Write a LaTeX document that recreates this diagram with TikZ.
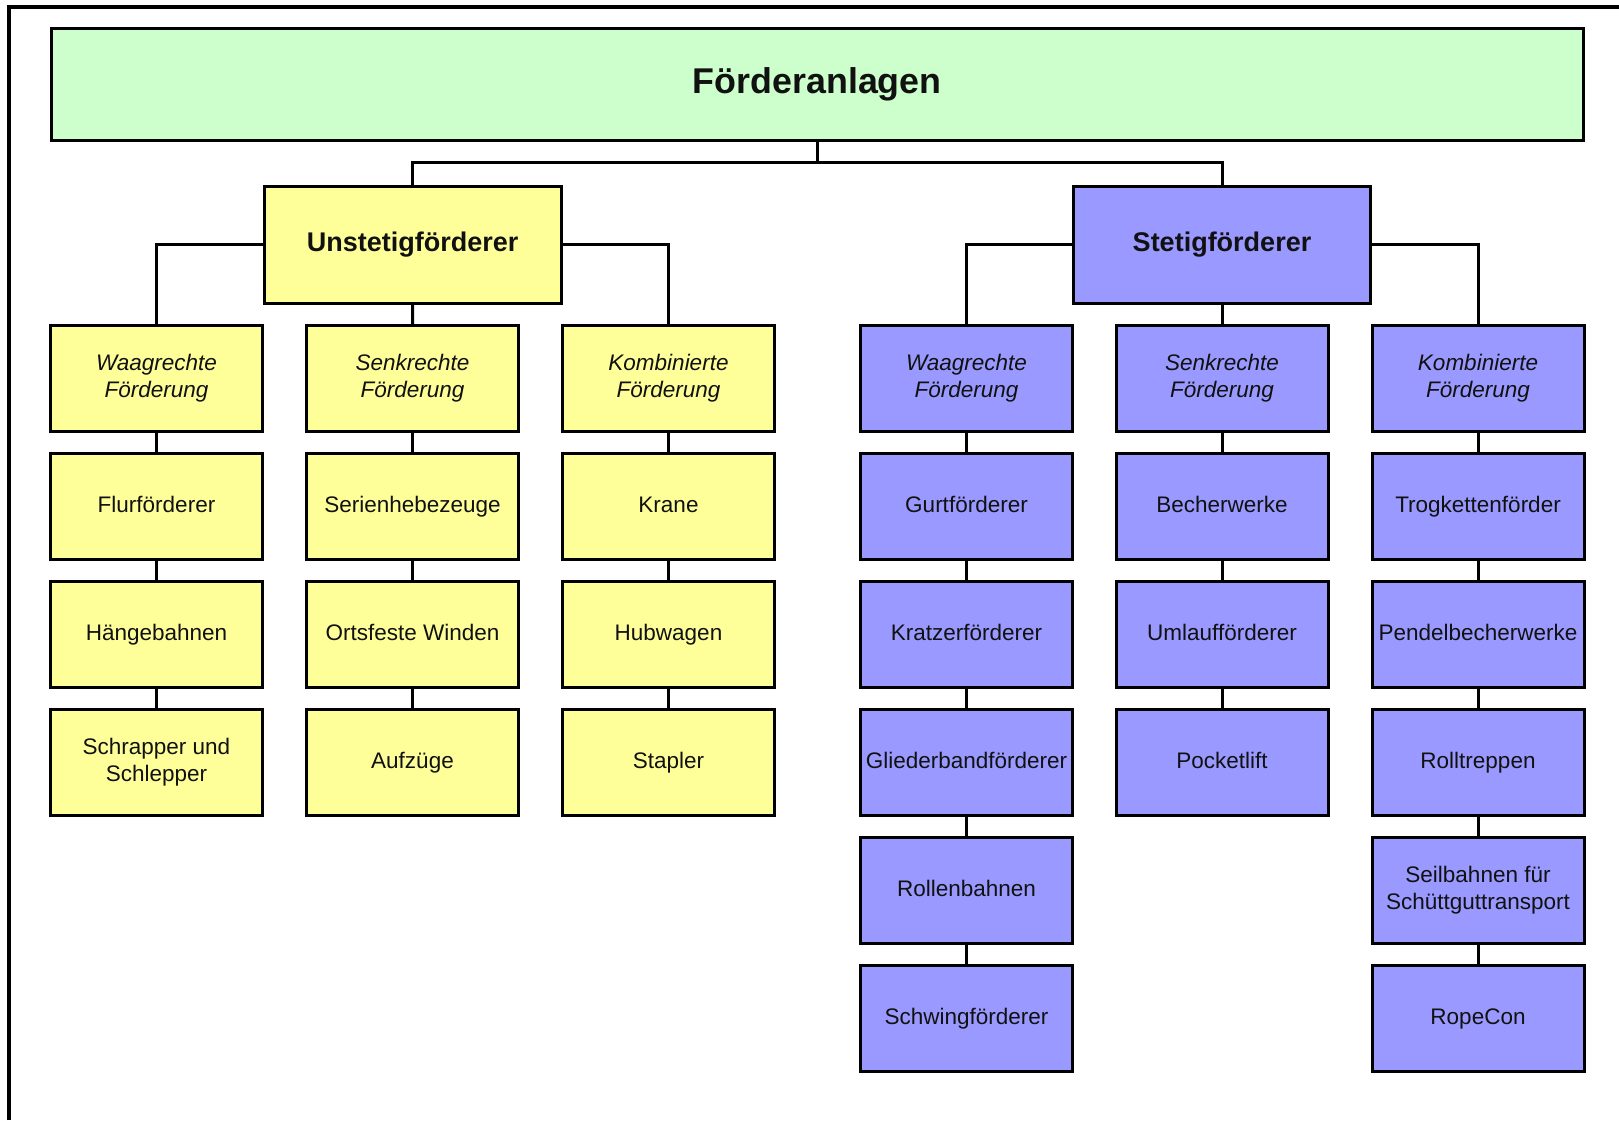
\documentclass[tikz,border=0pt]{standalone}
\usepackage{fontspec}
\setmainfont{Liberation Sans}
\definecolor{titlegreen}{HTML}{CCFFCC}
\definecolor{boxyellow}{HTML}{FFFF99}
\definecolor{boxblue}{HTML}{9999FF}
\definecolor{txt}{HTML}{111111}
\tikzset{
  basebox/.style={draw=black, line width=3pt, align=center, inner sep=0pt, text=txt},
  itembox/.style={basebox, minimum width=212pt, minimum height=106pt, font=\fontsize{22.5}{27}\selectfont, text height=16pt, text depth=5pt},
  twoline/.style={text height=43pt, text depth=5pt},
  ybox/.style={itembox, fill=boxyellow},
  bbox/.style={itembox, fill=boxblue},
  conn/.style={line width=3pt, draw=black},
}
\begin{document}
\begin{tikzpicture}[x=1pt,y=-1pt]
\useasboundingbox (0,0) rectangle (1619,1120);
\fill[white] (0,0) rectangle (1619,1120);
\draw[line width=4pt] (9,1120) -- (9,6.7) -- (1619,6.7);

\node[basebox, fill=titlegreen, minimum width=1532pt, minimum height=112pt, font=\bfseries\fontsize{35.8}{40}\selectfont, text height=26pt, text depth=8pt] (title) at (817.3,84.5) {Förderanlagen};
\node[basebox, fill=boxyellow, minimum width=297pt, minimum height=117pt, font=\bfseries\fontsize{27}{32}\selectfont, text height=19.5pt, text depth=6pt] (U) at (412.7,244.5) {Unstetigförderer};
\node[basebox, fill=boxblue, minimum width=297pt, minimum height=117pt, font=\bfseries\fontsize{27}{32}\selectfont, text height=19.5pt, text depth=6pt] (S) at (1222,244.5) {Stetigförderer};

% left group
\node[ybox, twoline] (a1) at (156.5,378.5) {\itshape Waagrechte\\\itshape Förderung};
\node[ybox] (a2) at (156.5,506.5) {Flurförderer};
\node[ybox] (a3) at (156.5,634.5) {Hängebahnen};
\node[ybox, twoline] (a4) at (156.5,762.5) {Schrapper und\\Schlepper};

\node[ybox, twoline] (b1) at (412.5,378.5) {\itshape Senkrechte\\\itshape Förderung};
\node[ybox] (b2) at (412.5,506.5) {Serienhebezeuge};
\node[ybox] (b3) at (412.5,634.5) {Ortsfeste Winden};
\node[ybox] (b4) at (412.5,762.5) {Aufzüge};

\node[ybox, twoline] (c1) at (668.5,378.5) {\itshape Kombinierte\\\itshape Förderung};
\node[ybox] (c2) at (668.5,506.5) {Krane};
\node[ybox] (c3) at (668.5,634.5) {Hubwagen};
\node[ybox] (c4) at (668.5,762.5) {Stapler};

% right group
\node[bbox, twoline] (d1) at (966.5,378.5) {\itshape Waagrechte\\\itshape Förderung};
\node[bbox] (d2) at (966.5,506.5) {Gurtförderer};
\node[bbox] (d3) at (966.5,634.5) {Kratzerförderer};
\node[bbox] (d4) at (966.5,762.5) {Gliederbandförderer};
\node[bbox] (d5) at (966.5,890.5) {Rollenbahnen};
\node[bbox] (d6) at (966.5,1018.5) {Schwingförderer};

\node[bbox, twoline] (e1) at (1222,378.5) {\itshape Senkrechte\\\itshape Förderung};
\node[bbox] (e2) at (1222,506.5) {Becherwerke};
\node[bbox] (e3) at (1222,634.5) {Umlaufförderer};
\node[bbox] (e4) at (1222,762.5) {Pocketlift};

\node[bbox, twoline] (f1) at (1478,378.5) {\itshape Kombinierte\\\itshape Förderung};
\node[bbox] (f2) at (1478,506.5) {Trogkettenförder};
\node[bbox] (f3) at (1478,634.5) {Pendelbecherwerke};
\node[bbox] (f4) at (1478,762.5) {Rolltreppen};
\node[bbox, twoline] (f5) at (1478,890.5) {Seilbahnen für\\Schüttguttransport};
\node[bbox] (f6) at (1478,1018.5) {RopeCon};

% connectors
\coordinate (j) at (817.3,162);
\draw[conn] (title.south) -- (j);
\draw[conn] (U.north) |- (j) -| (S.north);

\draw[conn] (U.west) -| (a1.north);
\draw[conn] (U.south) -- (b1.north);
\draw[conn] (U.east) -| (c1.north);
\draw[conn] (S.west) -| (d1.north);
\draw[conn] (S.south) -- (e1.north);
\draw[conn] (S.east) -| (f1.north);

\foreach \p/\q in {a1/a2,a2/a3,a3/a4,b1/b2,b2/b3,b3/b4,c1/c2,c2/c3,c3/c4,
  d1/d2,d2/d3,d3/d4,d4/d5,d5/d6,e1/e2,e2/e3,e3/e4,f1/f2,f2/f3,f3/f4,f4/f5,f5/f6}
  \draw[conn] (\p.south) -- (\q.north);
\end{tikzpicture}
\end{document}
